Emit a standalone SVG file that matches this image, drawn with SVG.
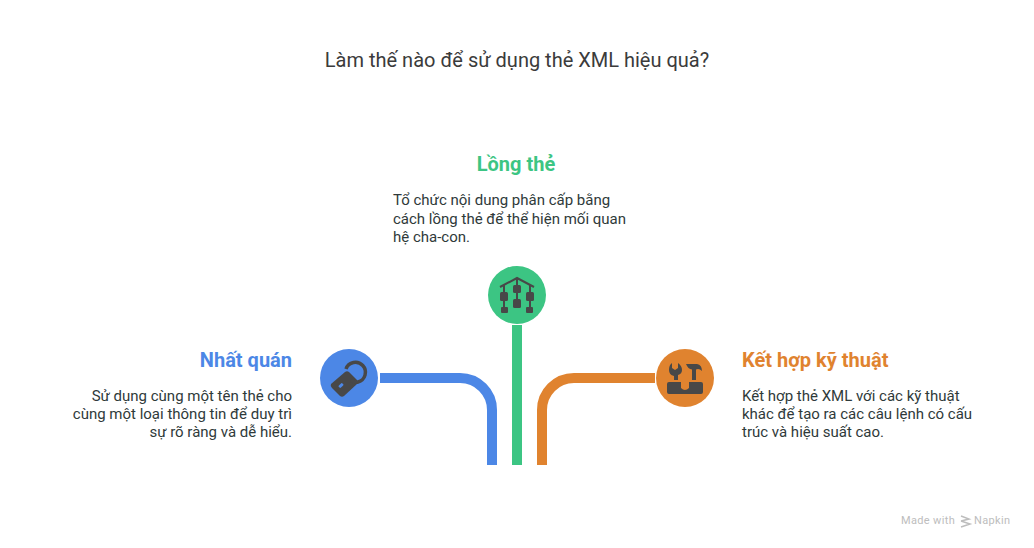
<svg xmlns="http://www.w3.org/2000/svg" width="1034" height="548" viewBox="0 0 1034 548">
<style>
text{font-family:Roboto,"Liberation Sans",sans-serif}
.t{font-size:20px;fill:#3b3b3b}
.h{font-size:20px;font-weight:700}
.b{font-size:15px;fill:#2f3a3a}
.c{fill:none;stroke-width:10}
.i{fill:#484848}
.s{fill:none;stroke:#484848}
.w{font-size:11px;fill:#bdbdbd;letter-spacing:.35px}
</style>
<rect width="1034" height="548" fill="#fff"/>
<text id="title" class="t" x="517" y="67" text-anchor="middle">Làm thế nào để sử dụng thẻ XML hiệu quả?</text>
<g id="connectors">
<path class="c" stroke="#4c87e6" d="M380 378H460A32 32 0 0 1 492 410V465"/>
<path class="c" stroke="#3cc583" d="M517 325V465"/>
<path class="c" stroke="#e0832f" d="M655 378H574A32 32 0 0 0 542 410V465"/>
</g>
<g id="node-long-the">
<circle cx="517" cy="295" r="29" fill="#3cc583"/>
<path class="s" stroke-width="2" d="M500 287L517 278L534 287M504 285V308M517 279V300M530 285V308"/>
<rect class="i" x="500" y="292" width="8" height="9" rx="1.500"/><rect class="i" x="513" y="285" width="8" height="8" rx="1.500"/><rect class="i" x="526" y="292" width="8" height="9" rx="1.500"/>
<rect class="i" x="513" y="299" width="8" height="9" rx="1.500"/><rect class="i" x="501" y="307" width="7" height="6" rx="1"/><rect class="i" x="526" y="307" width="7" height="6" rx="1"/>
<text class="h" x="516" y="171" text-anchor="middle" fill="#3cc583">Lồng thẻ</text>
<text class="b" x="393" y="205">Tổ chức nội dung phân cấp bằng</text>
<text class="b" x="393" y="223.500">cách lồng thẻ để thể hiện mối quan</text>
<text class="b" x="393" y="241.500">hệ cha-con.</text>
</g>
<g id="node-nhat-quan">
<circle cx="349" cy="378" r="29" fill="#4c87e6"/>
<path class="i" d="M331 384L345 372Q347 370.500 349 372L357 380Q358.500 382 357 384L344 396Q342 397.500 340 396L332 388Q330 386 331 384Z"/>
<rect x="338.500" y="384" width="5" height="3" rx="1" fill="#4c87e6" transform="rotate(-45 341 385.500)"/>
<path class="s" stroke-width="3.500" d="M346 369A10 10 0 1 1 358 382Q355 383 351 380"/>
<text class="h" x="292" y="367" text-anchor="end" fill="#4c87e6">Nhất quán</text>
<text class="b" x="292" y="401" text-anchor="end">Sử dụng cùng một tên thẻ cho</text>
<text class="b" x="292" y="419" text-anchor="end">cùng một loại thông tin để duy trì</text>
<text class="b" x="292" y="437" text-anchor="end">sự rõ ràng và dễ hiểu.</text>
</g>
<g id="node-ket-hop">
<circle cx="685" cy="378" r="29" fill="#e0832f"/>
<path class="i" d="M667 384Q667 382 669 382H681V388Q685 392 689 388V382H701Q703 382 703 384V392Q703 394 701 394H669Q667 394 667 392Z"/>
<path class="i" d="M672 363V368L675 370 678 368V363Q682 366 682 370 682 374 678 375V380H674V376Q669 375 669 370 669 365 672 363Z"/>
<path class="i" d="M686 364H697Q702 365 702 371Q699 368 696 369.500V380H692V369.500Q688 369 686 364Z"/>
<text class="h" x="742" y="367" fill="#e0832f">Kết hợp kỹ thuật</text>
<text class="b" x="742" y="401">Kết hợp thẻ XML với các kỹ thuật</text>
<text class="b" x="742" y="419">khác để tạo ra các câu lệnh có cấu</text>
<text class="b" x="742" y="437">trúc và hiệu suất cao.</text>
</g>
<g id="watermark">
<text class="w" x="901" y="524">Made with</text>
<path d="M961 516L969 519 961 521M961 521L970 524 961 527" fill="none" stroke="#bdbdbd" stroke-width="1.500"/>
<text class="w" x="974" y="524">Napkin</text>
</g>
</svg>
